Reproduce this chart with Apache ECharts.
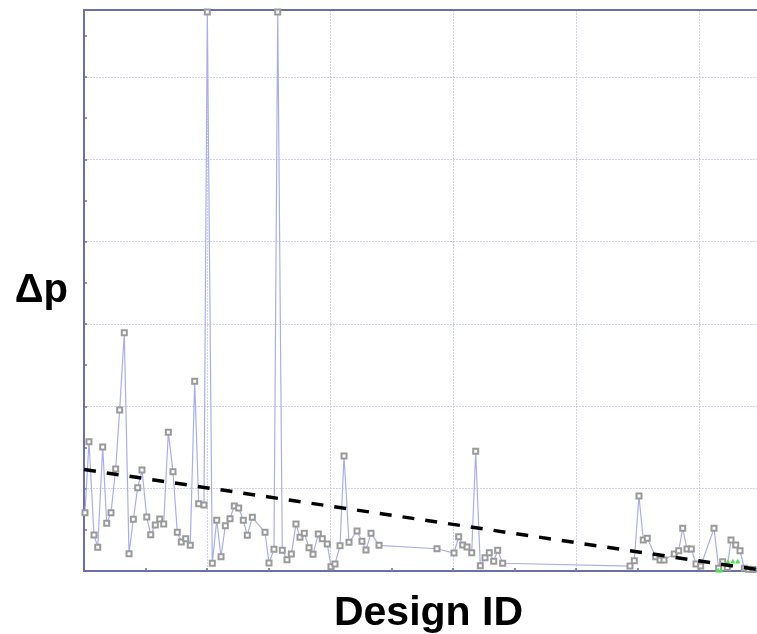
<!DOCTYPE html>
<html>
<head>
<meta charset="utf-8">
<script src="https://cdn.jsdelivr.net/npm/echarts@6/dist/echarts.min.js"></script>
<style>
html,body{margin:0;padding:0;background:#fff;}
#chart{width:757px;height:634px;}
</style>
</head>
<body>
<div id="chart"></div>
<script>
// Design ID (x) and Δp (y) (arbitrary axis units)
const designIds = [0.16,0.81,1.63,2.23,3.04,3.69,4.39,5.15,5.80,6.55,7.32,8.02,8.73,9.43,10.20,10.85,11.59,12.31,12.96,13.71,14.47,15.17,15.82,16.54,17.28,18.00,18.65,19.51,20.05,20.86,21.58,22.28,22.98,23.74,24.44,25.15,25.90,26.55,27.37,29.43,30.08,30.89,31.50,32.24,33.01,33.71,34.47,35.12,35.82,36.59,37.24,38.10,38.75,39.56,40.16,40.81,41.63,42.28,43.09,44.39,45.20,45.85,46.67,47.97,57.40,60.16,60.93,61.58,62.28,63.04,63.69,64.44,65.20,65.90,66.62,67.27,68.08,88.78,89.48,90.24,90.94,91.59,92.96,93.66,94.31,95.98,96.70,97.35,98.05,98.75,99.51,100.28,102.44,103.20,103.85,104.60,105.20,105.97,106.67,107.37,108.02,108.78];
const deltaP = [0.354,0.785,0.219,0.144,0.753,0.290,0.354,0.619,0.978,1.447,0.105,0.314,0.506,0.613,0.328,0.220,0.279,0.316,0.285,0.842,0.603,0.235,0.176,0.196,0.156,1.152,0.409,0.401,3.395,0.047,0.308,0.087,0.275,0.318,0.395,0.383,0.308,0.217,0.326,0.235,0.049,0.132,3.395,0.126,0.069,0.103,0.285,0.205,0.229,0.141,0.101,0.225,0.196,0.164,0.026,0.043,0.154,0.698,0.174,0.243,0.180,0.128,0.229,0.156,0.135,0.109,0.208,0.158,0.146,0.111,0.727,0.032,0.081,0.111,0.059,0.126,0.047,0.030,0.063,0.455,0.188,0.199,0.087,0.067,0.067,0.103,0.123,0.259,0.134,0.134,0.043,0.030,0.259,0.016,0.056,0.022,0.188,0.158,0.123,0.016,0.010,0.009];
// second (green) series, mostly hidden near the bottom right
const greenIds = [103.1,103.6,104.7,105.5,106.3];
const greenDeltaP = [0.006,0.006,0.058,0.061,0.061];
// trend line end points
const trendIds = [0, 109.43];
const trendDeltaP = [0.616, 0.009];

const X_MAX = 109.43, Y_MAX = 3.407;

const zip = (a, b) => a.map((v, i) => [v, b[i]]);

const chart = echarts.init(document.getElementById('chart'), null, {renderer: 'canvas'});
const axisColor = '#6b6fa3';
const gridColor = '#cfd0ec';
chart.setOption({
  animation: false,
  backgroundColor: '#ffffff',
  grid: {left: 84, top: 10, right: 0, bottom: 63, containLabel: false, outerBoundsMode: 'none'},
  xAxis: [
    {type: 'value', min: 0, max: X_MAX, interval: 10, position: 'bottom',
     name: 'Design ID', nameLocation: 'middle', nameGap: 22,
     nameTextStyle: {fontFamily: 'Liberation Sans', fontWeight: 'bold', fontSize: 41, color: '#000', padding: [0, 0, 0, 16]},
     axisLine: {show: true, lineStyle: {color: axisColor, width: 2}},
     axisTick: {show: true, inside: true, length: 3, lineStyle: {color: axisColor, width: 1.5}},
     axisLabel: {show: false}, splitLine: {show: false}},
    {type: 'value', min: 0, max: X_MAX, interval: 20, position: 'bottom',
     axisLine: {show: false}, axisTick: {show: false}, axisLabel: {show: false},
     splitLine: {show: true, lineStyle: {color: gridColor, width: 1, type: [2, 1]}}},
    {type: 'value', min: 0, max: X_MAX, position: 'top',
     axisLine: {show: true, lineStyle: {color: axisColor, width: 2}},
     axisTick: {show: false}, axisLabel: {show: false}, splitLine: {show: false}}
  ],
  yAxis: [
    {type: 'value', min: 0, max: Y_MAX, interval: 0.25, position: 'left',
     name: 'Δp', nameLocation: 'middle', nameGap: 16, nameRotate: 0,
     nameTextStyle: {fontFamily: 'Liberation Sans', fontWeight: 'bold', fontSize: 40, color: '#000'},
     axisLine: {show: true, lineStyle: {color: axisColor, width: 2}},
     axisTick: {show: true, inside: true, length: 3, lineStyle: {color: axisColor, width: 1.5}},
     axisLabel: {show: false}, splitLine: {show: false}},
    {type: 'value', min: 0, max: Y_MAX, interval: 0.5, position: 'left',
     axisLine: {show: false}, axisTick: {show: false}, axisLabel: {show: false},
     splitLine: {show: true, lineStyle: {color: gridColor, width: 1, type: [2, 1]}}}
  ],
  series: [
    {type: 'line', xAxisIndex: 0, yAxisIndex: 0, data: zip(designIds, deltaP),
     symbol: 'emptyRect', symbolSize: 5, z: 3,
     lineStyle: {color: '#a9afe6', width: 1.2},
     itemStyle: {color: '#9a9a9a', borderColor: '#9a9a9a', borderWidth: 1}},
    {type: 'line', xAxisIndex: 0, yAxisIndex: 0, data: zip(greenIds, greenDeltaP),
     symbol: 'triangle', symbolSize: 5, z: 4,
     lineStyle: {width: 0, opacity: 0},
     itemStyle: {color: '#55dd55'}},
    {type: 'line', xAxisIndex: 0, yAxisIndex: 0, data: zip(trendIds, trendDeltaP),
     symbol: 'none', z: 5,
     lineStyle: {color: '#000', width: 3.5, type: [12, 11]}}
  ]
});
</script>
</body>
</html>
